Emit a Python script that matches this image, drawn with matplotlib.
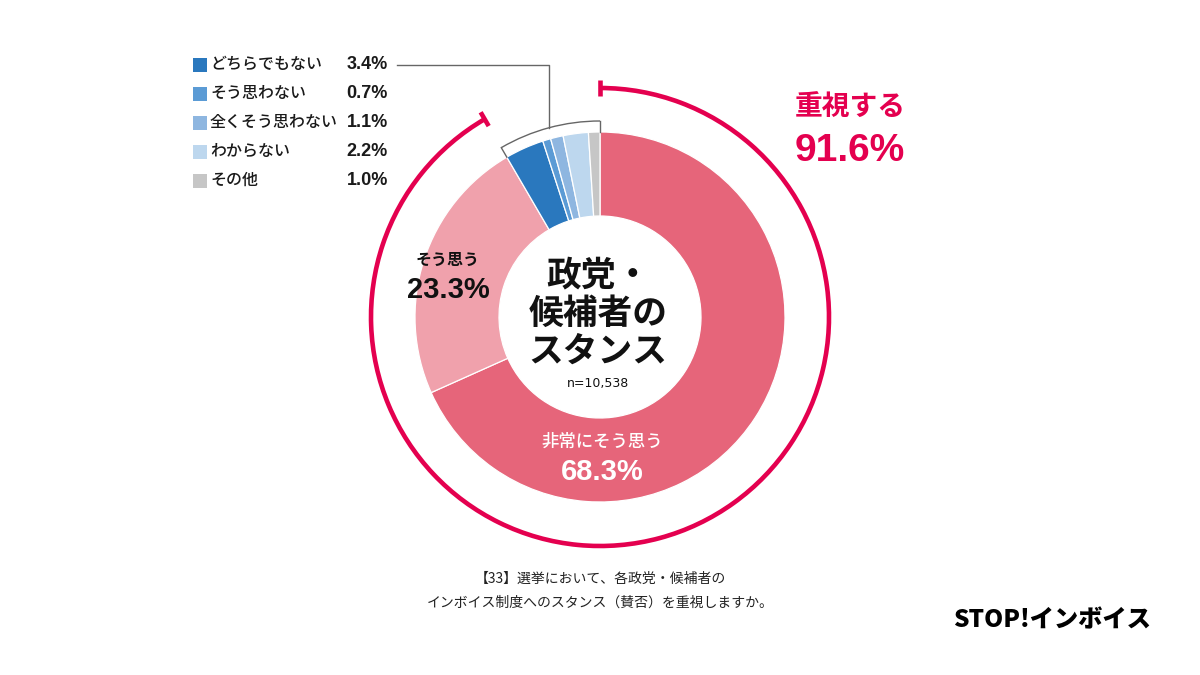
import numpy as np
import matplotlib
matplotlib.use("Agg")
import matplotlib.pyplot as plt
from matplotlib.patches import Arc, Rectangle

plt.rcParams['font.family'] = ['Noto Sans CJK JP', 'DejaVu Sans']
NUMF = ['Liberation Sans', 'Noto Sans CJK JP']

# ---- data ----
categories = ["非常にそう思う", "そう思う", "どちらでもない", "そう思わない",
              "全くそう思わない", "わからない", "その他"]
values = [68.3, 23.3, 3.4, 0.7, 1.1, 2.2, 1.0]
colors = ["#E6657A", "#F0A1AC", "#2A78BE", "#5B9BD5", "#8EB6E0", "#BDD7EE", "#C6C6C6"]
legend_cats = categories[2:]
legend_vals = values[2:]
legend_cols = colors[2:]
emphasis_label = "重視する"
emphasis_value = 91.6
n_label = "n=10,538"
center_title = "政党・\n候補者の\nスタンス"
caption = "【33】選挙において、各政党・候補者の\nインボイス制度へのスタンス（賛否）を重視しますか。"

RED = "#E4004F"
W, H = 1200, 675
CX, CY = 600, H - 317
R_OUT, RING = 185, 84

fig = plt.figure(figsize=(12, 6.75), dpi=100)
ax = fig.add_axes([0, 0, 1, 1])

ax.pie(values, colors=colors, startangle=90, counterclock=False, radius=R_OUT,
       center=(CX, CY), wedgeprops=dict(width=RING, edgecolor="white", linewidth=0.9))

ax.set_xlim(0, W)
ax.set_ylim(0, H)
ax.set_aspect("equal")
ax.axis("off")

# ---- red emphasis arc ----
R_ARC = 229
end_angle = 90 + 360 * (100 - emphasis_value) / 100
ax.add_patch(Arc((CX, CY), 2 * R_ARC, 2 * R_ARC, theta1=end_angle - 360, theta2=90,
                 lw=3.3, color=RED, capstyle="butt"))
for a in (90, end_angle):
    t = np.deg2rad(a)
    ax.plot([CX + (R_ARC - 8) * np.cos(t), CX + (R_ARC + 8) * np.cos(t)],
            [CY + (R_ARC - 8) * np.sin(t), CY + (R_ARC + 8) * np.sin(t)],
            color=RED, lw=3.3, solid_capstyle="butt")

# ---- bracket around small segments ----
R_BR = 196
GRAY = "#666666"
ax.add_patch(Arc((CX, CY), 2 * R_BR, 2 * R_BR, theta1=90, theta2=end_angle, lw=1.0, color=GRAY))
for a in (90, end_angle):
    t = np.deg2rad(a)
    ax.plot([CX + R_OUT * np.cos(t), CX + R_BR * np.cos(t)],
            [CY + R_OUT * np.sin(t), CY + R_BR * np.sin(t)], color=GRAY, lw=1.0)
mid = np.deg2rad((90 + end_angle) / 2)
lx, ly = CX + R_BR * np.cos(mid), CY + R_BR * np.sin(mid)
row_y = [H - 64.5 - 29 * i for i in range(len(legend_cats))]
ax.plot([lx, lx, 397], [ly, row_y[0], row_y[0]], color=GRAY, lw=1.0)

# ---- legend ----
for yy, c, lab, v in zip(row_y, legend_cols, legend_cats, legend_vals):
    ax.add_patch(Rectangle((193, yy - 7), 14, 14, color=c, lw=0))
    ax.text(210, yy, lab, fontsize=11.5, fontweight="medium", va="center", ha="left", color="#1a1a1a")
    ax.text(388, yy, f"{v:.1f}%", fontsize=13, fontweight="bold", va="center", ha="right",
            color="#1a1a1a", family=NUMF)

# ---- center text ----
ax.text(CX - 2, H - 313, center_title, fontsize=25, fontweight="bold", ha="center", va="center",
        linespacing=1.1, color="#111111")
ax.text(CX - 2, H - 384, n_label, fontsize=9, ha="center", va="center", color="#111111",
        family=['DejaVu Sans'])

# ---- segment labels ----
ax.text(448, H - 260, categories[1], fontsize=11.5, fontweight="bold", ha="center", va="center", color="#111111")
ax.text(448, H - 290, f"{values[1]:.1f}%", fontsize=21, fontweight="bold", ha="center", va="center",
        color="#111111", family=NUMF)
ax.text(602, H - 442, categories[0], fontsize=12.5, fontweight="medium", ha="center", va="center", color="white")
ax.text(602, H - 472, f"{values[0]:.1f}%", fontsize=21, fontweight="bold", ha="center", va="center",
        color="white", family=NUMF)

# ---- emphasis label ----
ax.text(850, H - 108, emphasis_label, fontsize=20, fontweight="bold", ha="center", va="center", color=RED)
ax.text(850, H - 151, f"{emphasis_value:.1f}%", fontsize=28, fontweight="bold", ha="center", va="center",
        color=RED, family=NUMF)

# ---- caption ----
ax.text(600, H - 591, caption, fontsize=10, ha="center", va="center", linespacing=1.9, color="#222222")

# ---- logo ----
ax.text(1151, H - 620, "STOP!インボイス", fontsize=17.5, fontweight="black", ha="right", va="center",
        color="black")

fig.savefig("out.png", dpi=100, facecolor="white")
